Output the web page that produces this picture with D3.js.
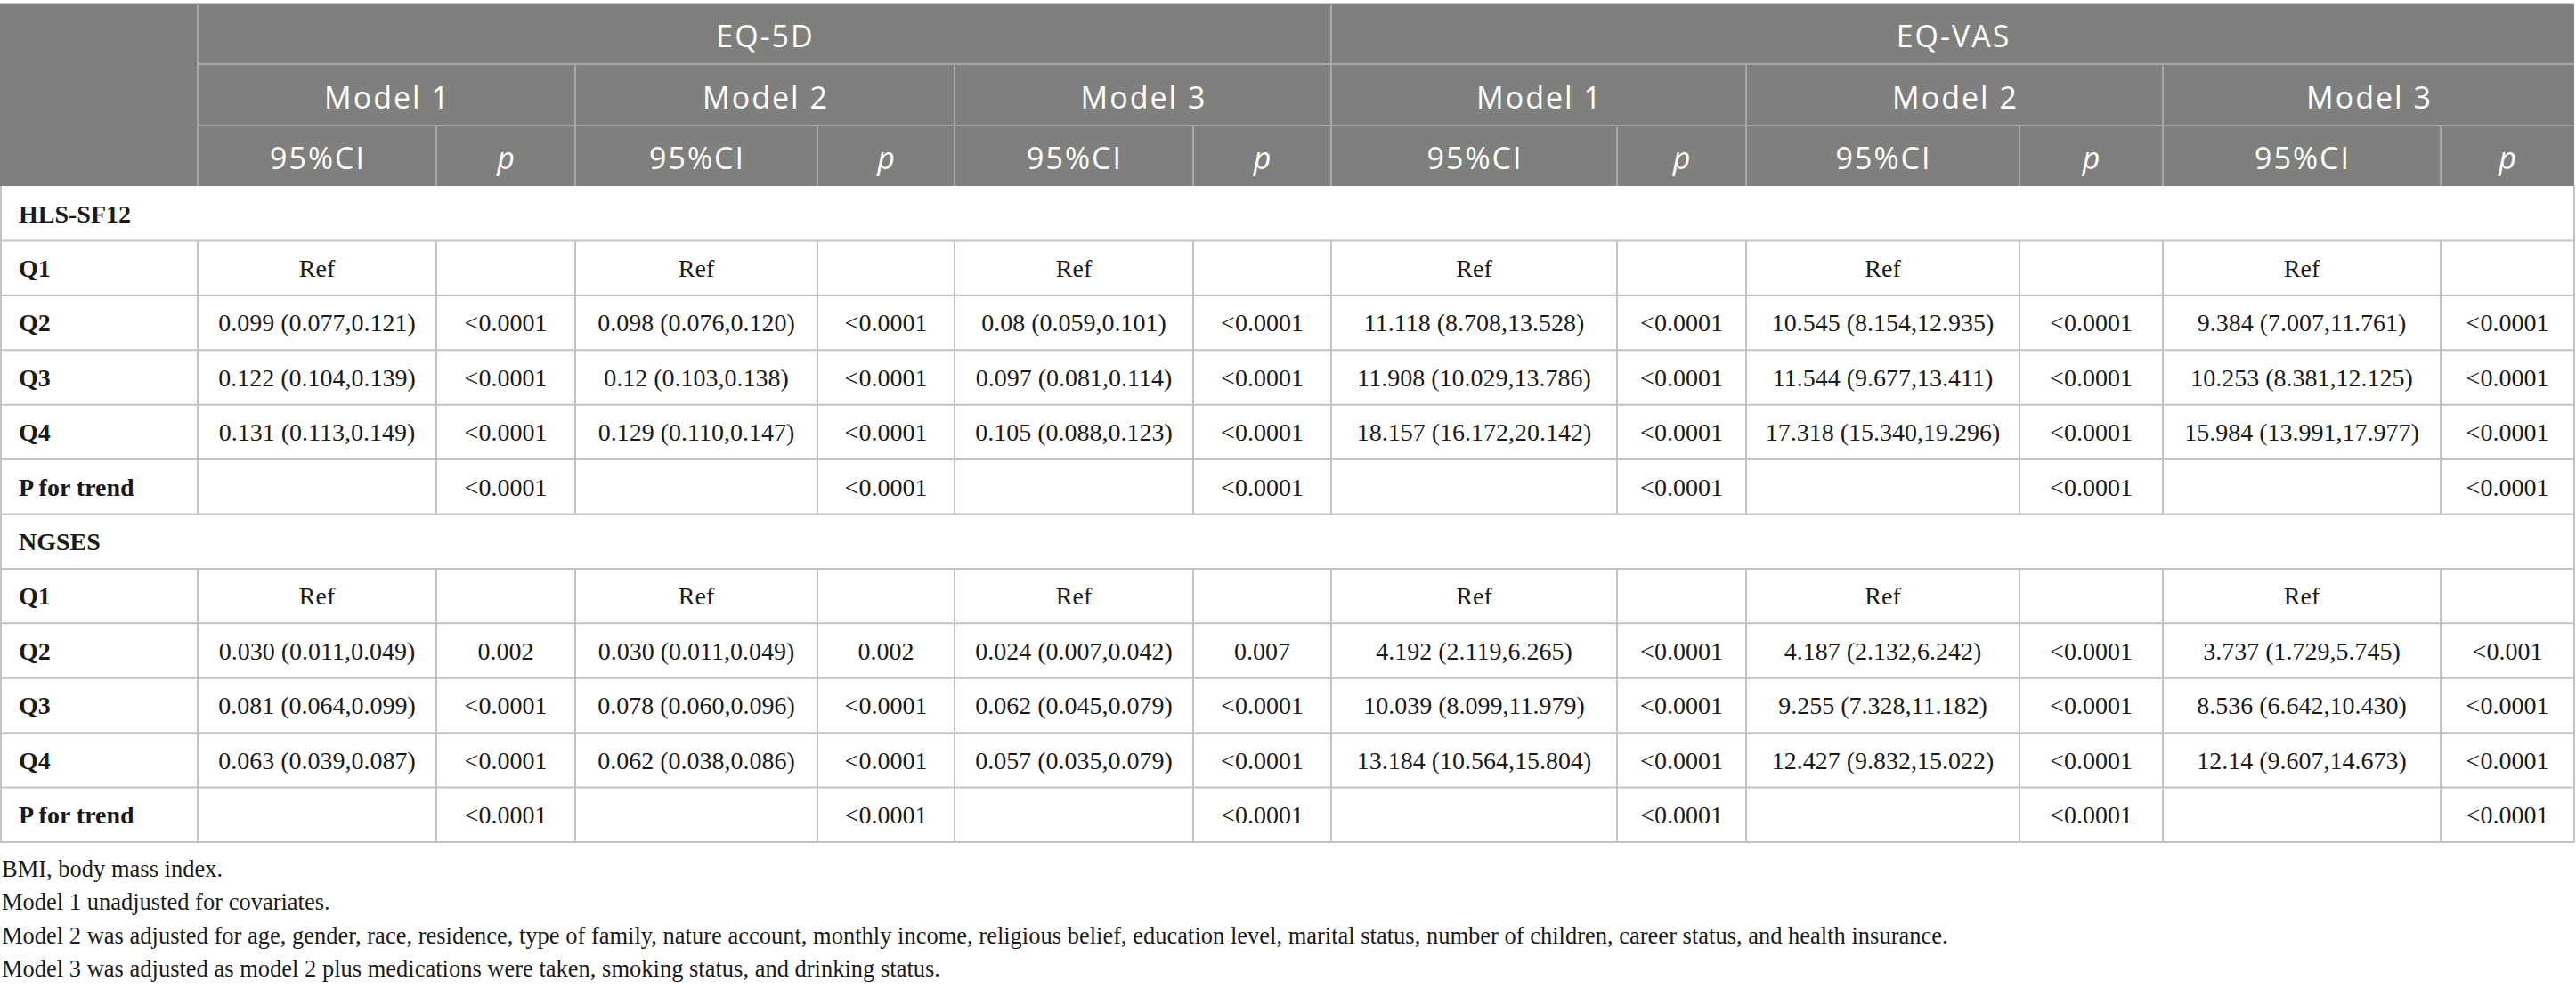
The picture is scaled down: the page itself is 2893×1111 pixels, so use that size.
<!DOCTYPE html>
<html>
<head>
<meta charset="utf-8">
<script src="https://cdn.jsdelivr.net/npm/d3@7"></script>
<style>
  html, body { margin: 0; padding: 0; background: #ffffff; }
  svg { display: block; }
</style>
</head>
<body>
<div id="chart"></div>
<script>
// ---------------- DATA ----------------
const outcomes = ["EQ-5D", "EQ-VAS"];
const models = ["Model 1", "Model 2", "Model 3"];
const subHeaders = ["95%CI", "p"];
const groups = ["HLS-SF12", "NGSES"];
const rowLabels = ["Q1", "Q2", "Q3", "Q4", "P for trend"];

const hlsQ1 = ["Ref", "", "Ref", "", "Ref", "", "Ref", "", "Ref", "", "Ref", ""];
const hlsQ2 = ["0.099 (0.077,0.121)", "<0.0001", "0.098 (0.076,0.120)", "<0.0001", "0.08 (0.059,0.101)", "<0.0001",
               "11.118 (8.708,13.528)", "<0.0001", "10.545 (8.154,12.935)", "<0.0001", "9.384 (7.007,11.761)", "<0.0001"];
const hlsQ3 = ["0.122 (0.104,0.139)", "<0.0001", "0.12 (0.103,0.138)", "<0.0001", "0.097 (0.081,0.114)", "<0.0001",
               "11.908 (10.029,13.786)", "<0.0001", "11.544 (9.677,13.411)", "<0.0001", "10.253 (8.381,12.125)", "<0.0001"];
const hlsQ4 = ["0.131 (0.113,0.149)", "<0.0001", "0.129 (0.110,0.147)", "<0.0001", "0.105 (0.088,0.123)", "<0.0001",
               "18.157 (16.172,20.142)", "<0.0001", "17.318 (15.340,19.296)", "<0.0001", "15.984 (13.991,17.977)", "<0.0001"];
const hlsTrend = ["", "<0.0001", "", "<0.0001", "", "<0.0001", "", "<0.0001", "", "<0.0001", "", "<0.0001"];

const ngsQ1 = ["Ref", "", "Ref", "", "Ref", "", "Ref", "", "Ref", "", "Ref", ""];
const ngsQ2 = ["0.030 (0.011,0.049)", "0.002", "0.030 (0.011,0.049)", "0.002", "0.024 (0.007,0.042)", "0.007",
               "4.192 (2.119,6.265)", "<0.0001", "4.187 (2.132,6.242)", "<0.0001", "3.737 (1.729,5.745)", "<0.001"];
const ngsQ3 = ["0.081 (0.064,0.099)", "<0.0001", "0.078 (0.060,0.096)", "<0.0001", "0.062 (0.045,0.079)", "<0.0001",
               "10.039 (8.099,11.979)", "<0.0001", "9.255 (7.328,11.182)", "<0.0001", "8.536 (6.642,10.430)", "<0.0001"];
const ngsQ4 = ["0.063 (0.039,0.087)", "<0.0001", "0.062 (0.038,0.086)", "<0.0001", "0.057 (0.035,0.079)", "<0.0001",
               "13.184 (10.564,15.804)", "<0.0001", "12.427 (9.832,15.022)", "<0.0001", "12.14 (9.607,14.673)", "<0.0001"];
const ngsTrend = ["", "<0.0001", "", "<0.0001", "", "<0.0001", "", "<0.0001", "", "<0.0001", "", "<0.0001"];

const footnotes = [
  "BMI, body mass index.",
  "Model 1 unadjusted for covariates.",
  "Model 2 was adjusted for age, gender, race, residence, type of family, nature account, monthly income, religious belief, education level, marital status, number of children, career status, and health insurance.",
  "Model 3 was adjusted as model 2 plus medications were taken, smoking status, and drinking status."
];

// ---------------- LAYOUT ----------------
const W = 2893, H = 1111;
const colEdges = [1, 222, 490, 646, 918, 1072, 1340, 1495, 1816, 1961, 2268, 2429, 2741, 2891];
const headerEdges = [4, 72, 141, 209];
const bodyTop = 209, bodyBottom = 946;

const bodyRows = [];
groups.forEach((g, gi) => {
  bodyRows.push({type: "group", label: g});
  const sets = gi === 0 ? [hlsQ1, hlsQ2, hlsQ3, hlsQ4, hlsTrend] : [ngsQ1, ngsQ2, ngsQ3, ngsQ4, ngsTrend];
  rowLabels.forEach((r, ri) => bodyRows.push({type: "data", label: r, cells: sets[ri]}));
});

const y = d3.scaleBand().domain(d3.range(bodyRows.length)).range([bodyTop, bodyBottom]).padding(0);
const colX = i => colEdges[i];
const colMid = i => (colEdges[i] + colEdges[i + 1]) / 2;

const svg = d3.select("#chart").append("svg").attr("width", W).attr("height", H);

const headFill = "#7f807e";
const headLine = "#a7a8a6";
const bodyLine = "#c3c3c3";
const headFont = "'Open Sans', 'Noto Sans', sans-serif";
const bodyFont = "'Liberation Serif', 'Times New Roman', serif";

// header background
svg.append("rect").attr("x", colEdges[0] - 1).attr("y", headerEdges[0])
  .attr("width", colEdges[13] - colEdges[0] + 1).attr("height", headerEdges[3] - headerEdges[0])
  .attr("fill", headFill);

// header grid lines
const hl = svg.append("g").attr("stroke", headLine).attr("stroke-width", 2);
hl.append("line").attr("x1", 0).attr("x2", colEdges[13]).attr("y1", headerEdges[0]).attr("y2", headerEdges[0]).attr("stroke", "#c9c9c9");
[1, 2].forEach(r => hl.append("line").attr("x1", colEdges[1]).attr("x2", colEdges[13])
  .attr("y1", headerEdges[r]).attr("y2", headerEdges[r]));
[1, 7].forEach(c => hl.append("line").attr("x1", colX(c)).attr("x2", colX(c))
  .attr("y1", headerEdges[0]).attr("y2", headerEdges[3]));
[3, 5, 9, 11].forEach(c => hl.append("line").attr("x1", colX(c)).attr("x2", colX(c))
  .attr("y1", headerEdges[1]).attr("y2", headerEdges[3]));
[2, 4, 6, 8, 10, 12].forEach(c => hl.append("line").attr("x1", colX(c)).attr("x2", colX(c))
  .attr("y1", headerEdges[2]).attr("y2", headerEdges[3]));

// header texts
const ht = svg.append("g").attr("fill", "#ffffff").attr("font-family", headFont)
  .attr("font-weight", 400).attr("font-size", 34).attr("letter-spacing", "2px").attr("text-anchor", "middle");
outcomes.forEach((o, i) => {
  ht.append("text").attr("x", (colX(1 + i * 6) + colX(7 + i * 6)) / 2 + 1).attr("y", 53).text(o);
});
outcomes.forEach((o, oi) => models.forEach((m, mi) => {
  const c = 1 + oi * 6 + mi * 2;
  ht.append("text").attr("x", (colX(c) + colX(c + 2)) / 2 + 1).attr("y", 122).text(m);
  subHeaders.forEach((s, si) => {
    ht.append("text").attr("x", colMid(c + si) + 1).attr("y", 190)
      .attr("font-style", si === 1 ? "italic" : "normal").text(s);
  });
}));

// body grid
const bl = svg.append("g").attr("stroke", bodyLine).attr("stroke-width", 2);
bodyRows.forEach((r, i) => {
  const y0 = y(i), y1 = y(i) + y.bandwidth();
  bl.append("line").attr("x1", 0).attr("x2", colEdges[13] + 1).attr("y1", y1).attr("y2", y1);
  bl.append("line").attr("x1", colEdges[0]).attr("x2", colEdges[0]).attr("y1", y0).attr("y2", y1);
  bl.append("line").attr("x1", colEdges[13]).attr("x2", colEdges[13]).attr("y1", y0).attr("y2", y1);
  if (r.type === "data") {
    d3.range(1, 13).forEach(c => bl.append("line").attr("x1", colX(c)).attr("x2", colX(c)).attr("y1", y0).attr("y2", y1));
  }
});

// body text
const bt = svg.append("g").attr("font-family", bodyFont).attr("font-size", 28).attr("fill", "#1a1a1a");
bodyRows.forEach((r, i) => {
  const cy = y(i) + y.bandwidth() / 2;
  bt.append("text").attr("x", 21).attr("y", cy).attr("dy", "0.35em").attr("font-weight", "bold").text(r.label);
  if (r.type === "data") {
    r.cells.forEach((v, ci) => {
      if (!v) return;
      bt.append("text").attr("x", colMid(ci + 1)).attr("y", cy).attr("dy", "0.35em")
        .attr("text-anchor", "middle").text(v);
    });
  }
});

// footnotes
const ft = svg.append("g").attr("font-family", bodyFont).attr("font-size", 26.5).attr("fill", "#1a1a1a");
const fy = d3.scaleLinear().domain([0, 3]).range([985, 1097]);
footnotes.forEach((f, i) => ft.append("text").attr("x", 2).attr("y", fy(i)).text(f));
</script>
</body>
</html>
